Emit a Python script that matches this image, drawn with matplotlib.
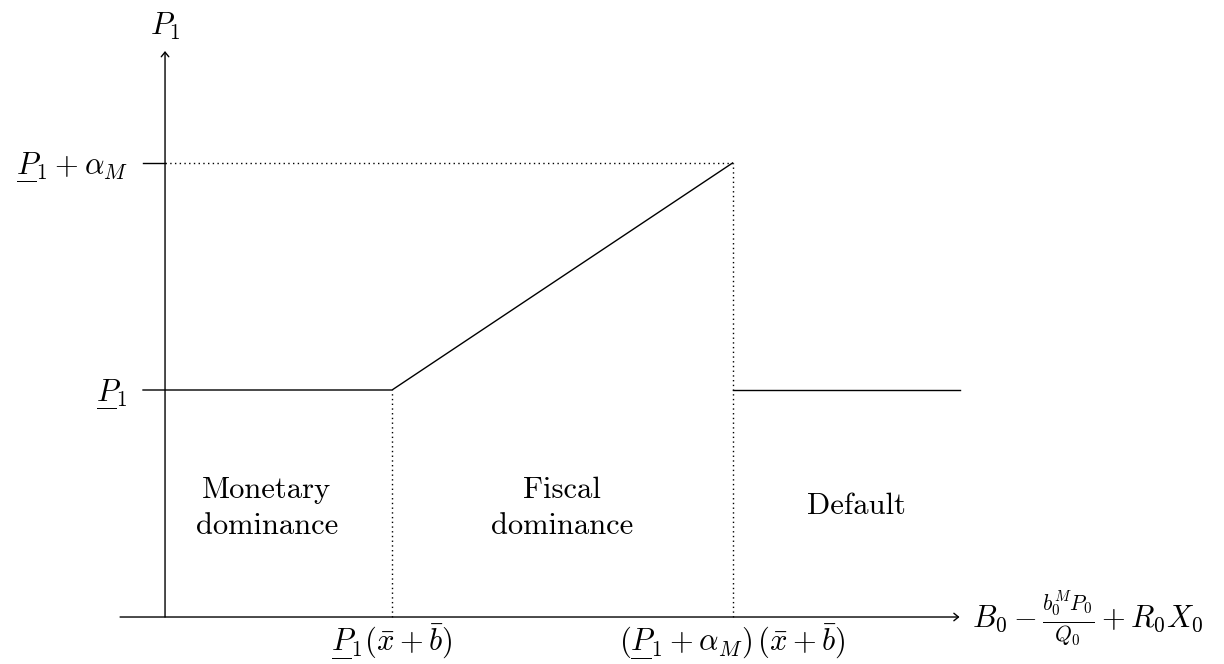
import numpy as np
import matplotlib.pyplot as plt

plt.rcParams['mathtext.fontset'] = 'cm'
plt.rcParams['font.family'] = 'serif'
plt.rcParams['font.serif'] = ['cmr10']
plt.rcParams['axes.unicode_minus'] = False
plt.rcParams['axes.formatter.use_mathtext'] = True

# Price level values (P_1 lower bound, P_1 + alpha_M)
p_low = 1.0
p_high = 2.0

# Thresholds on the horizontal axis
x_kink1 = 1.0
x_kink2 = 2.5
x_end = 3.5

# Region labels and their positions
region_labels = ['Monetary\ndominance', 'Fiscal\ndominance', 'Default']
region_x = [0.449, 1.749, 3.044]
region_y = [0.48, 0.48, 0.489]

PU = r'\underset{\overline{\quad}}{P}'
xtick_labels = [r'$' + PU + r'_1(\bar{x}+\bar{b})$',
                r'$(' + PU + r'_1+\alpha_M)\,(\bar{x}+\bar{b})$']
ytick_labels = [r'$' + PU + r'_1$', r'$' + PU + r'_1+\alpha_M$']

fig = plt.figure(figsize=(12.24, 6.64), dpi=100)
ax = fig.add_axes([0, 0, 1, 1])
ax.set_xlim(-0.727, 4.665)
ax.set_ylim(-0.207, 2.718)
ax.axis('off')

fs = 22
lw = 1.0
dots = (0, (1, 2.4))
head = '->,head_length=0.33,head_width=0.27'

# Axes with arrows
ax.annotate('', xy=(x_end, 0), xytext=(-0.198, 0),
            arrowprops=dict(arrowstyle=head, lw=lw, color='black', shrinkA=0, shrinkB=0))
ax.annotate('', xy=(0, 2.493), xytext=(0, 0),
            arrowprops=dict(arrowstyle=head, lw=lw, color='black', shrinkA=0, shrinkB=0))

# Policy function
ax.plot([-0.097, x_kink1, x_kink2], [p_low, p_low, p_high], color='black', lw=lw)
ax.plot([x_kink2, x_end], [p_low, p_low], color='black', lw=lw)

# Tick for upper level
ax.plot([-0.097, 0], [p_high, p_high], color='black', lw=lw)

# Dotted guides
ax.plot([0, x_kink2], [p_high, p_high], color='black', lw=lw, ls=dots)
ax.plot([x_kink1, x_kink1], [0, p_low], color='black', lw=lw, ls=dots)
ax.plot([x_kink2, x_kink2], [0, p_high], color='black', lw=lw, ls=dots)

# Tick labels
for y, lab in zip([p_low, p_high], ytick_labels):
    ax.text(-0.163, y - 0.037, lab, ha='right', va='baseline', fontsize=fs)
for x, lab in zip([x_kink1, x_kink2], xtick_labels):
    ax.text(x, -0.14, lab, ha='center', va='baseline', fontsize=fs)

# Axis labels
ax.text(0, 2.564, r'$P_1$', ha='center', va='baseline', fontsize=fs)
ax.text(3.555, -0.048, r'$B_0-\frac{b_0^M P_0}{Q_0}+R_0X_0$', ha='left', va='baseline', fontsize=fs)

# Region labels
for x, y, lab in zip(region_x, region_y, region_labels):
    ax.text(x, y, lab, ha='center', va='center', fontsize=fs, linespacing=1.38)

fig.savefig('out.png', dpi=100)
